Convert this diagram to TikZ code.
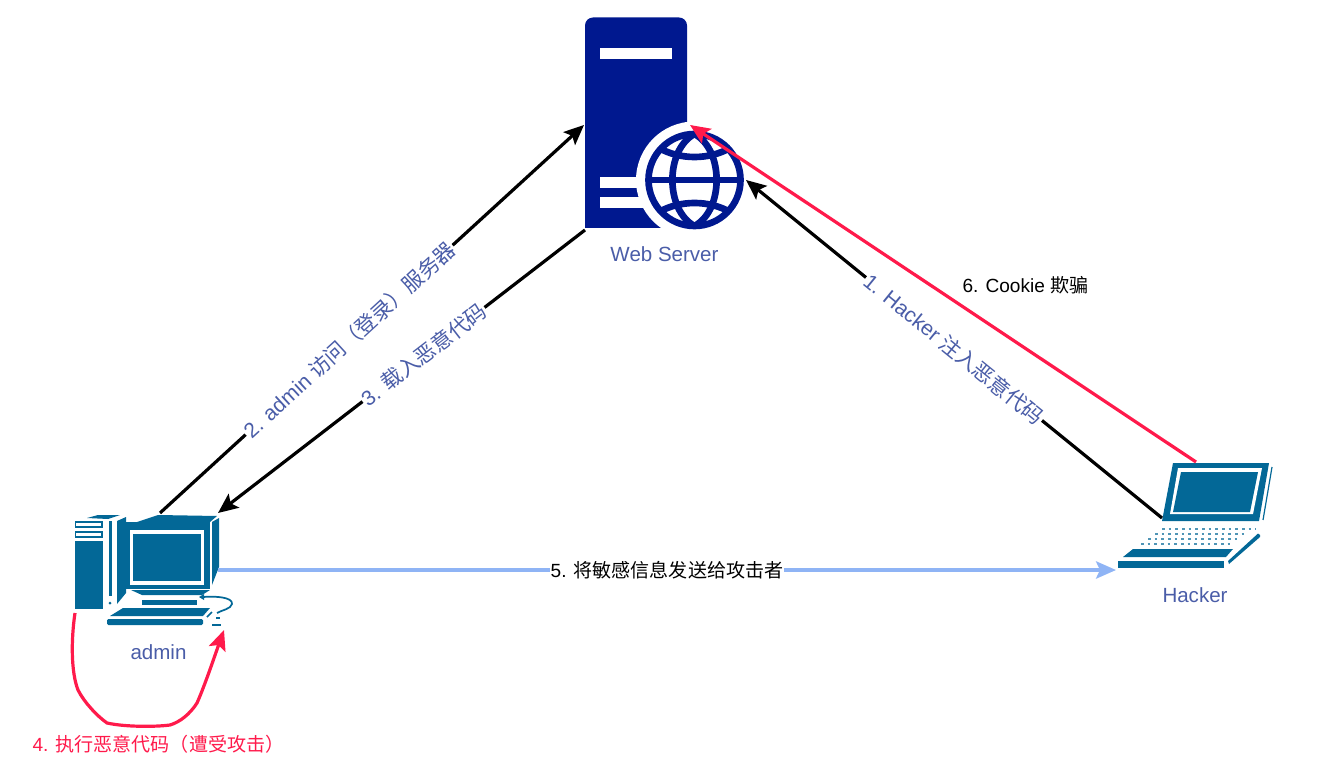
\documentclass[tikz,border=0pt]{standalone}
\usepackage{fontspec}
\setmainfont{Liberation Sans}
\newfontfamily\cjk{Noto Sans CJK SC}
\newcommand\zh[1]{{\cjk #1}}
\usetikzlibrary{arrows.meta}
\definecolor{navy}{HTML}{00188F}
\definecolor{teal}{HTML}{036897}
\definecolor{lbl}{HTML}{4A5DA8}
\definecolor{hot}{HTML}{FF1A4B}
\definecolor{sky}{HTML}{8FB4F5}
\tikzset{
 iconbox/.style={minimum width=#1,inner sep=0pt,outer sep=0pt},
 captext/.style={text=lbl,font=\fontsize{15.4}{18}\selectfont,inner sep=0pt},
 edgelbl/.style={font=\fontsize{14.3}{17}\selectfont,inner sep=0.8pt,fill=white},
 slopelbl/.style={sloped,font=\fontsize{15.8}{18}\selectfont,inner sep=0.8pt,fill=white,text=lbl},
 freelbl/.style={font=\fontsize{14.3}{17}\selectfont,inner sep=0pt},
 conn/.style={line width=2.4pt,-{Stealth[length=15pt,width=13pt,inset=3pt]}},
 blackline/.style={conn,draw=black},
 redline/.style={conn,draw=hot},
 blueline/.style={conn,draw=sky},
}
\begin{document}
\begin{tikzpicture}[x=0.75pt,y=-0.75pt]
\useasboundingbox (0,0) rectangle (1333,762);
% invisible icon frames
\node[iconbox=120pt,minimum height=159pt] (server) at (665,123) {};
\node[iconbox=108pt,minimum height=87pt] (admin) at (146,570) {};
\node[iconbox=114pt,minimum height=84pt] (hacker) at (1195,516) {};
\coordinate (s2) at (584,125);
\coordinate (s3) at (585,230);
\coordinate (s1) at (746,180);
\coordinate (s6) at (690,125);
\coordinate (a2) at (160,513);
\coordinate (a3) at (218,513);
\coordinate (a5) at (218,570);
\coordinate (a4s) at (75,613);
\coordinate (a4e) at (224,630);
\coordinate (h1) at (1162,518);
\coordinate (h6) at (1196,462);
\coordinate (h5) at (1116,570);
% server
\fill[navy,rounded corners=6pt] (585,228) -- (585,17.5) -- (687,17.5) -- (687,228) -- cycle;
\fill[navy] (585,200) rectangle (620,228);
\fill[white] (600,48) rectangle (672,59);
\fill[white] (600,177) rectangle (670,188);
\fill[white] (600,197) rectangle (670,208);
\fill[white] (694.5,180) circle (58.5*0.75pt);
\fill[white] (660,228.5) rectangle (700,240);
\begin{scope}[navy,line width=5pt]
\draw (694.5,180) circle (46*0.75pt);
\draw (694.5,134) .. controls (665,150) and (665,210) .. (694.5,226);
\draw (694.5,134) .. controls (724,150) and (724,210) .. (694.5,226);
\draw (648,180) -- (741,180);
\draw (659,148) .. controls (680,160) and (709,160) .. (730,148);
\draw (659,212) .. controls (680,200) and (709,200) .. (730,212);
\end{scope}
% admin computer
\begin{scope}
\fill[teal] (75,541) rectangle (103,609);
\draw[teal,line width=0.9pt] (75.5,522) rectangle (102,527);
\draw[teal,line width=0.9pt] (75.5,532) rectangle (102,537);
\fill[teal] (87,518) -- (98,515) -- (120,515) -- (108,519) -- cycle;
\fill[teal] (117,521) -- (126,517) -- (126,593) -- (117,604) -- cycle;
\fill[teal] (109,521) rectangle (111.5,596);
\fill[teal] (110,603) circle (1.5);
% monitor
\fill[teal] (137,522) -- (158,515) -- (217,516) -- (210,522) -- cycle;
\fill[teal] (212,522) -- (219,518) -- (219,567) -- (212,585) -- cycle;
\fill[teal] (126,522) rectangle (210,589);
\fill[white] (130,530) rectangle (204,585);
\fill[teal] (133,534) rectangle (201,581);
\fill[teal] (131,590) -- (210,590) -- (202,595) -- (142,595) -- cycle;
\fill[teal] (142,600) rectangle (197,604.5);
% keyboard
\fill[teal] (110,616) -- (123,608) -- (210,608) -- (203,616) -- cycle;
\fill[teal,rounded corners=1pt] (107,619) rectangle (203,625);
% mouse + cable
\draw[teal,line width=1.3pt] (203,597) .. controls (215,596) and (233,597) .. (232,604) .. controls (231,609) and (222,610) .. (217,613);
\fill[teal] (199,597) -- (204,594) -- (204,600) -- cycle;
\draw[teal,line width=1.3pt] (207,617) -- (212,612);
\fill[teal] (212,624) rectangle (221,625.5);
\fill[teal] (216,617) rectangle (220,619);
\end{scope}
% laptop
\begin{scope}
\fill[teal] (1173,463) -- (1269,463) -- (1259,521) -- (1162,521) -- cycle;
\fill[white] (1178,468) -- (1262,468) -- (1253,514) -- (1170,514) -- cycle;
\fill[teal] (1181,472) -- (1258,472) -- (1250,512) -- (1173,512) -- cycle;
\draw[teal,line width=0.9pt] (1272,467) -- (1263,520);
\fill[teal] (1123,557) -- (1133,549) -- (1233,549) -- (1226,557) -- cycle;
\foreach \r/\xa/\xb in {0/1162/1256,1/1155/1248,2/1148/1241,3/1141/1234}{
 \draw[teal!70,line width=0.8pt,dash pattern=on 2pt off 3pt] (\xa,529+5*\r) -- (\xb,529+5*\r);
}
\fill[teal] (1117.5,561) rectangle (1224,568);
\fill[teal] (1228,561) -- (1258,533.5) -- (1260,535) -- (1260,537) -- (1229,564) -- cycle;
\end{scope}
% captions
\node[captext] (capserver) at (664.5,254) {Web Server};
\node[captext] (capadmin) at (158.5,652) {admin};
\node[captext] (caphacker) at (1195,595) {Hacker};
% connectors
\draw[blackline] (a2) -- (s2) node[pos=.446,slopelbl] (l2) {2. admin \zh{访问（登录）服务器}};
\draw[blackline] (s3) -- (a3) node[pos=.44,slopelbl] (l3) {3. \zh{载入恶意代码}};
\draw[blackline] (h1) -- (s1) node[pos=.5,slopelbl] (l1) {1. Hacker \zh{注入恶意代码}};
\draw[redline] (h6) -- (s6);
\draw[blueline] (a5) -- (h5) node[pos=.5,edgelbl,text=black] (l5) {5. \zh{将敏感信息发送给攻击者}};
\draw[redline] (a4s) .. controls (71,640) and (71,672) .. (78,690) .. controls (84,702) and (97,716) .. (107,723) .. controls (125,727) and (155,727) .. (170,725) .. controls (180,722) and (190,714) .. (197,703) .. controls (205,685) and (215,655) .. (a4e);
\node[freelbl,text=hot] (l4) at (158.5,744) {4. \zh{执行恶意代码（遭受攻击）}};
\node[freelbl,text=black] (l6) at (1025.5,285) {6. Cookie \zh{欺骗}};
\end{tikzpicture}
\end{document}
